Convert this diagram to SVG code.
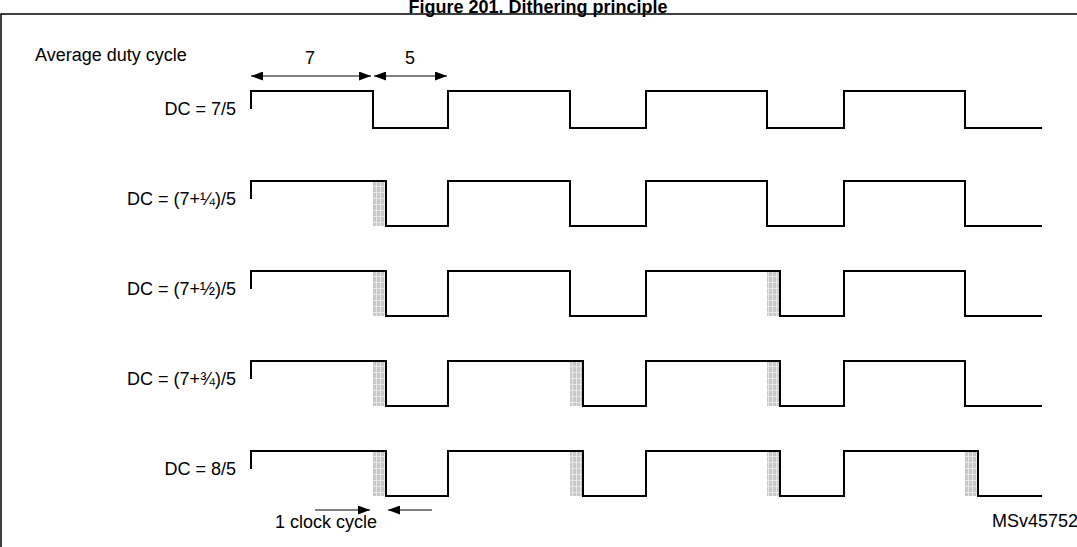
<svg xmlns="http://www.w3.org/2000/svg" width="1077" height="547" viewBox="0 0 1077 547">
<defs>
<pattern id="hp" width="4" height="6" patternUnits="userSpaceOnUse"><rect width="4" height="6" fill="#c8c8c8"/><path d="M0 0.5H4M0.5 0V6" stroke="#e8e8e8" stroke-width="1"/></pattern>
<marker id="ar" markerWidth="12" markerHeight="9" refX="12" refY="4.5" orient="auto-start-reverse" markerUnits="userSpaceOnUse"><path d="M0 0L12 4.5L0 9z" fill="#000"/></marker>
<style>
text{font-family:"Liberation Sans",Arial,sans-serif;font-size:18px;fill:#000}
.lab{text-anchor:end}
.w{fill:none;stroke:#000;stroke-width:2}
.h{fill:url(#hp)}
.c{stroke:#000;stroke-width:1;fill:none}
</style>
</defs>
<rect width="1077" height="547" fill="#fff"/>
<text x="538" y="13" text-anchor="middle" font-weight="bold" font-size="19">Figure 201. Dithering principle</text>
<path d="M1 547V14H1077" stroke="#000" stroke-width="1.5" fill="none"/>
<text x="35" y="61">Average duty cycle</text>
<g id="connectors">
<line class="c" x1="251" y1="76" x2="371" y2="76" marker-start="url(#ar)" marker-end="url(#ar)"/>
<line class="c" x1="374" y1="76" x2="447" y2="76" marker-start="url(#ar)" marker-end="url(#ar)"/>
<line class="c" x1="315" y1="510" x2="370" y2="510" marker-end="url(#ar)"/>
<line class="c" x1="432" y1="510" x2="388" y2="510" marker-end="url(#ar)"/>
</g>
<text x="310" y="64" text-anchor="middle">7</text>
<text x="410" y="64" text-anchor="middle">5</text>
<text x="275" y="528">1 clock cycle</text>
<text x="992" y="527" font-size="14">MSv45752V1</text>
<g id="row1">
<text class="lab" x="236" y="115">DC = 7/5</text>
<path class="w" d="M251 109V91H373V128H448V91H570V128H646V91H767V128H844V91H965V128H1042"/>
</g>
<g id="row2">
<text class="lab" x="236" y="205">DC = (7+¼)/5</text>
<rect class="h" x="373" y="181" width="13" height="45"/>
<path class="w" d="M251 199V181H386V226H448V181H570V226H646V181H767V226H844V181H965V226H1042"/>
</g>
<g id="row3">
<text class="lab" x="236" y="295">DC = (7+½)/5</text>
<rect class="h" x="373" y="271" width="13" height="45"/>
<rect class="h" x="767" y="271" width="13" height="45"/>
<path class="w" d="M251 289V271H386V316H448V271H570V316H646V271H780V316H844V271H965V316H1042"/>
</g>
<g id="row4">
<text class="lab" x="236" y="385">DC = (7+¾)/5</text>
<rect class="h" x="373" y="361" width="13" height="45"/>
<rect class="h" x="570" y="361" width="13" height="45"/>
<rect class="h" x="767" y="361" width="13" height="45"/>
<path class="w" d="M251 379V361H386V406H448V361H583V406H646V361H780V406H844V361H965V406H1042"/>
</g>
<g id="row5">
<text class="lab" x="236" y="475">DC = 8/5</text>
<rect class="h" x="373" y="451" width="13" height="45"/>
<rect class="h" x="570" y="451" width="13" height="45"/>
<rect class="h" x="767" y="451" width="13" height="45"/>
<rect class="h" x="965" y="451" width="13" height="45"/>
<path class="w" d="M251 469V451H386V496H448V451H583V496H646V451H780V496H844V451H978V496H1042"/>
</g>
</svg>
